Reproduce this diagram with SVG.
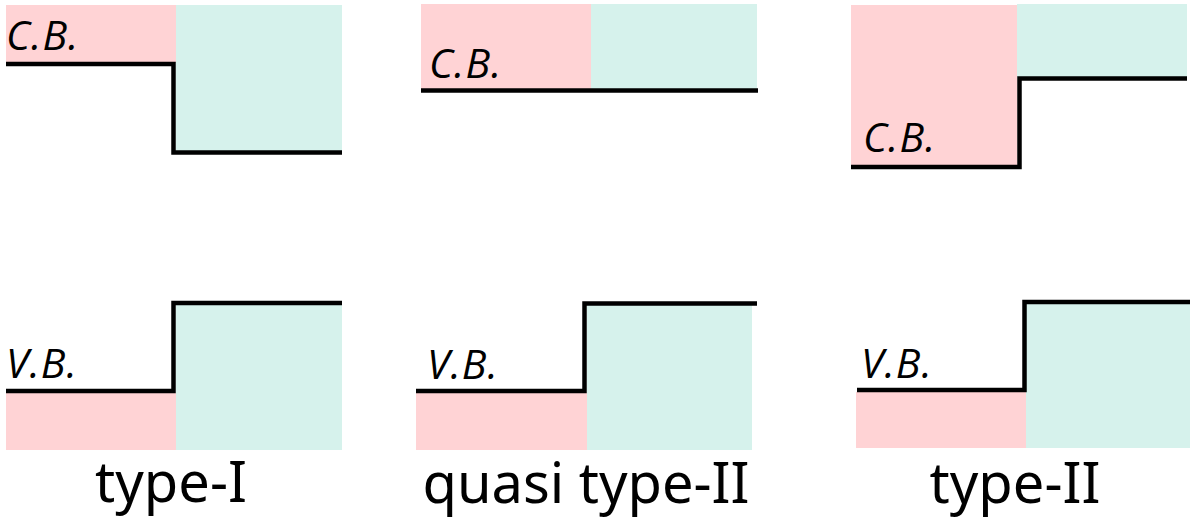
<svg xmlns="http://www.w3.org/2000/svg" width="1190" height="521" viewBox="0 0 1190 521">
<style>
.p{fill:#FFD3D5}
.t{fill:#D6F2EC}
.ln{fill:none;stroke:#000;stroke-width:4.5;stroke-linejoin:miter}
.lb{font-family:"Open Sans","Noto Sans",sans-serif;font-style:italic;font-size:41px;letter-spacing:1px;fill:#000}
.cap{font-family:"Noto Sans","Open Sans",sans-serif;font-size:56px;fill:#000;text-anchor:middle}
</style>
<rect width="1190" height="521" fill="#fff"/>
<g id="typeI-CB">
<rect class="p" x="6" y="5" width="170" height="58"/>
<rect class="t" x="176" y="5" width="166" height="146"/>
<polyline class="ln" points="6,64 173.5,64 173.5,152.5 342,152.5"/>
<text class="lb" x="6" y="50">C.B.</text>
</g>
<g id="quasi-CB">
<rect class="p" x="421" y="4" width="170" height="85"/>
<rect class="t" x="591" y="4" width="166" height="85"/>
<polyline class="ln" points="421,90.5 758,90.5"/>
<text class="lb" x="429" y="78">C.B.</text>
</g>
<g id="typeII-CB">
<rect class="p" x="851" y="5" width="166" height="161"/>
<rect class="t" x="1017" y="4" width="170" height="73"/>
<polyline class="ln" points="851,167 1019.5,167 1019.5,78.5 1187,78.5"/>
<text class="lb" x="863" y="152">C.B.</text>
</g>
<g id="typeI-VB">
<rect class="p" x="6" y="393" width="170" height="57"/>
<rect class="t" x="176" y="304" width="166" height="146"/>
<polyline class="ln" points="6,391 173.5,391 173.5,303 342,303"/>
<text class="lb" x="6" y="378">V.B.</text>
</g>
<g id="quasi-VB">
<rect class="p" x="416" y="393" width="171" height="57"/>
<rect class="t" x="587" y="305" width="165" height="145"/>
<polyline class="ln" points="416,391 584.5,391 584.5,303.5 757,303.5"/>
<text class="lb" x="427" y="379">V.B.</text>
</g>
<g id="typeII-VB">
<rect class="p" x="856" y="392" width="170" height="56"/>
<rect class="t" x="1026" y="304" width="164" height="144"/>
<polyline class="ln" points="857,390 1024.5,390 1024.5,302 1190,302"/>
<text class="lb" x="861" y="378">V.B.</text>
</g>
<g id="captions">
<text class="cap" x="171" y="502">type-I</text>
<text class="cap" x="586" y="503">quasi type-II</text>
<text class="cap" x="1015" y="503">type-II</text>
</g>
</svg>
